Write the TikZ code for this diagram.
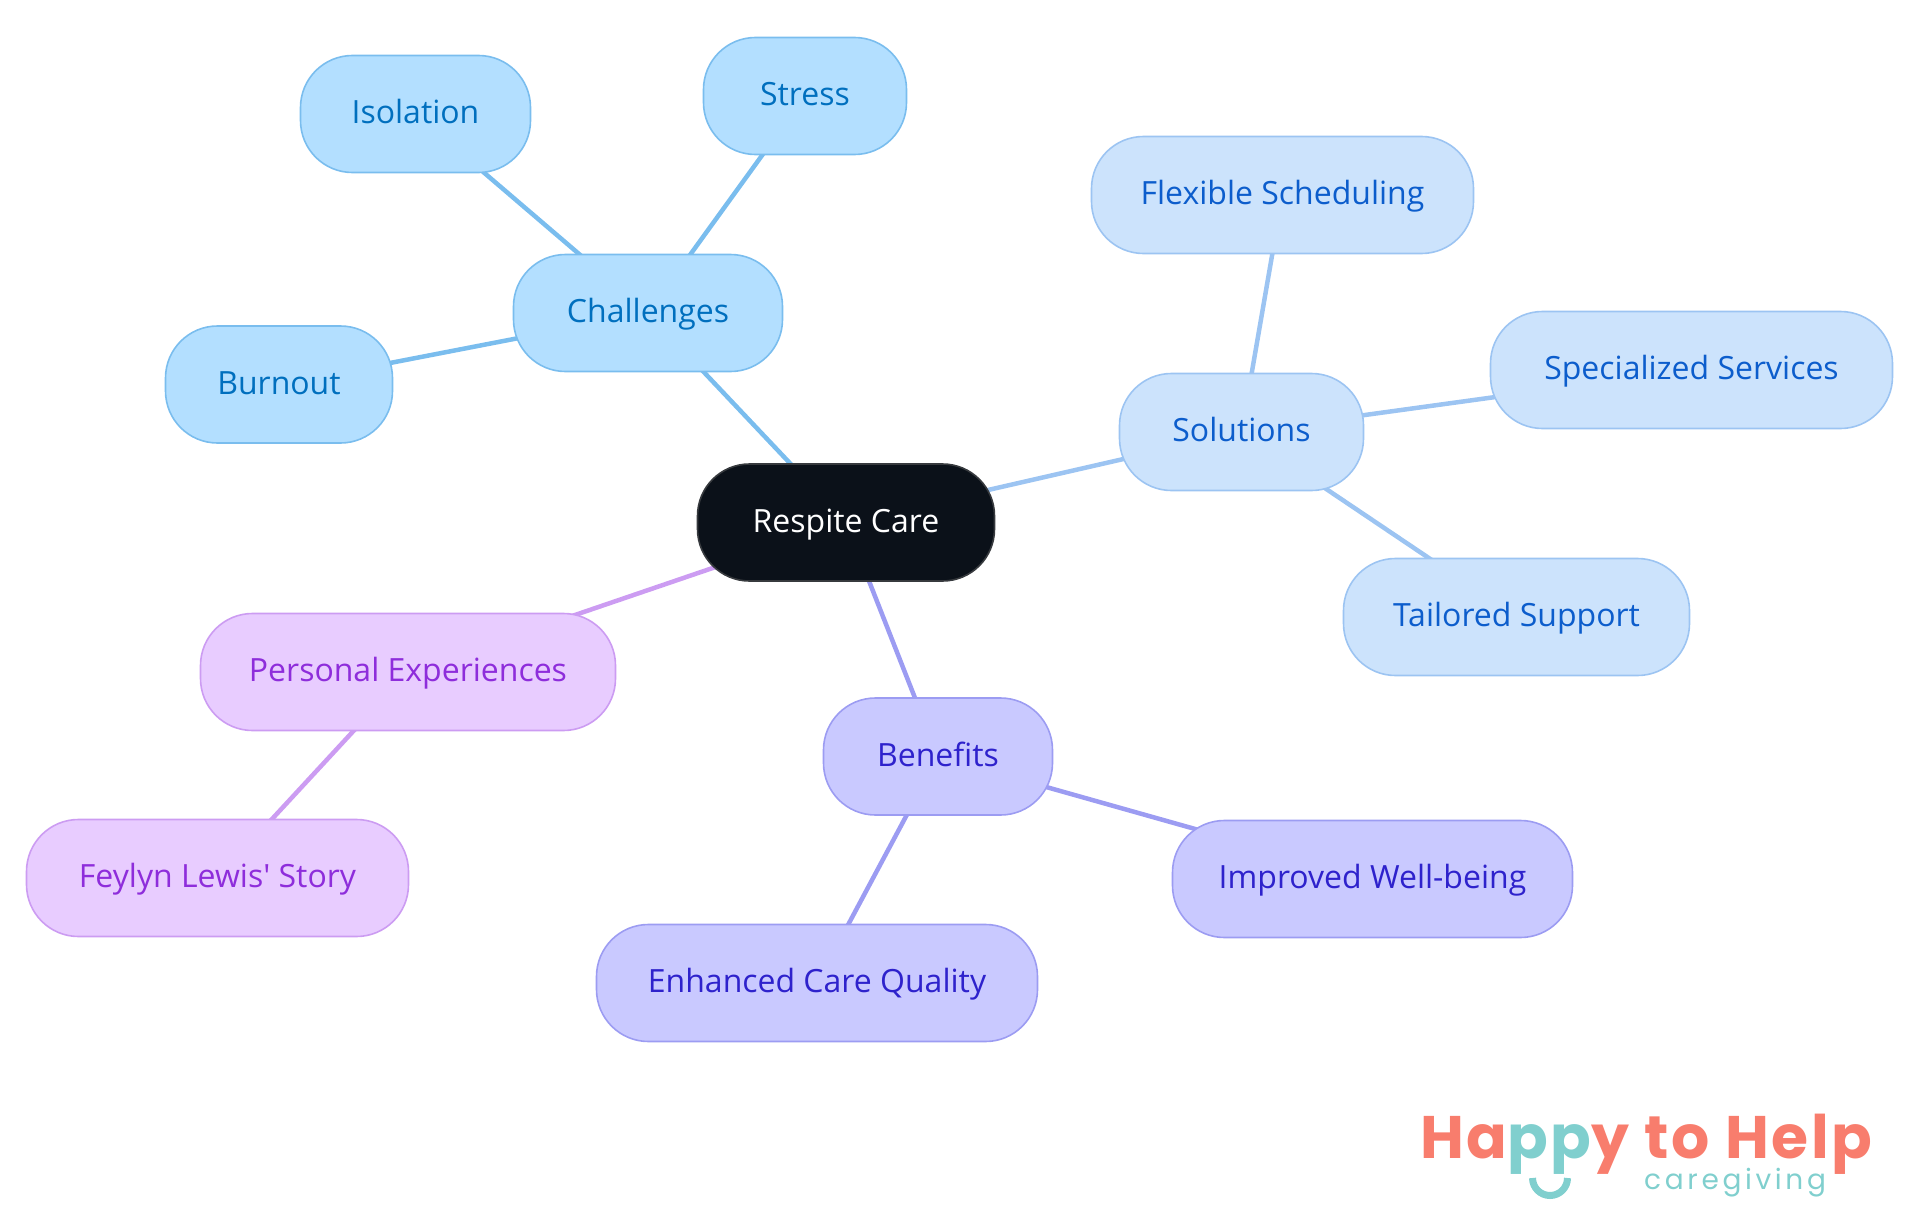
\documentclass[tikz,border=0pt]{standalone}
\usepackage{fontspec}
\newfontfamily\nodefont{Open Sans}
\newfontfamily\logofont{Poppins}
\usetikzlibrary{backgrounds}
\definecolor{ca}{HTML}{B3DFFF}\definecolor{cb}{HTML}{7ABDEE}\definecolor{cc}{HTML}{006FBE}
\definecolor{sa}{HTML}{CCE3FC}\definecolor{sb}{HTML}{9CC4F2}\definecolor{sc}{HTML}{0C5DCC}
\definecolor{ba}{HTML}{C9C9FF}\definecolor{bb}{HTML}{9C9CF2}\definecolor{bc}{HTML}{2E22CC}
\definecolor{pa}{HTML}{E8CCFF}\definecolor{pb}{HTML}{CC9CF2}\definecolor{pc}{HTML}{8E2DDB}
\definecolor{ra}{HTML}{0B1119}\definecolor{rb}{HTML}{373A3E}
\definecolor{logored}{HTML}{F87D6D}\definecolor{logoteal}{HTML}{80CFCE}
\tikzset{
 x=1pt,y=-1pt,
 pill/.style={rectangle,rounded corners=52pt,line width=1.6pt,inner sep=0pt,minimum height=117pt,
   font=\nodefont\fontsize{32}{36}\selectfont,text height=23pt,text depth=3.6pt,align=center},
 chal/.style={pill,fill=ca,draw=cb,text=cc},
 solu/.style={pill,fill=sa,draw=sb,text=sc},
 bene/.style={pill,fill=ba,draw=bb,text=bc},
 pers/.style={pill,fill=pa,draw=pb,text=pc},
 rootpill/.style={pill,fill=ra,draw=rb,text=white},
 link/.style={line width=4.5pt},
}
\begin{document}
\begin{tikzpicture}
\useasboundingbox (0,0) rectangle (1920,1215);
\node[rootpill,minimum width=297pt] (r) at (846,522.5) {Respite Care};
\node[chal,minimum width=269pt] (c) at (648,313) {Challenges};
\node[chal,minimum width=230pt] (c1) at (415.5,114) {Isolation};
\node[chal,minimum width=203pt] (c2) at (805,96) {Stress};
\node[chal,minimum width=227pt] (c3) at (279,384.5) {Burnout};
\node[solu,minimum width=244pt] (s) at (1241.5,432) {Solutions};
\node[solu,minimum width=382pt] (s1) at (1282.5,195) {Flexible Scheduling};
\node[solu,minimum width=402pt] (s2) at (1691.5,370) {Specialized Services};
\node[solu,minimum width=346pt] (s3) at (1516.5,617) {Tailored Support};
\node[bene,minimum width=229pt] (b) at (938,756.5) {Benefits};
\node[bene,minimum width=400pt] (b1) at (1372.5,879) {Improved Well-being};
\node[bene,minimum width=441pt] (b2) at (817,983) {Enhanced Care Quality};
\node[pers,minimum width=415pt] (p) at (408,672) {Personal Experiences};
\node[pers,minimum width=382pt] (p1) at (217.5,878) {Feylyn Lewis' Story};
\begin{scope}[on background layer]
\draw[link,cb] (r.center)--(c.center);
\draw[link,cb] (c.center)--(c1.center);
\draw[link,cb] (c.center)--(c2.center);
\draw[link,cb] (c.center)--(c3.center);
\draw[link,sb] (r.center)--(s.center);
\draw[link,sb] (s.center)--(s1.center);
\draw[link,sb] (s.center)--(s2.center);
\draw[link,sb] (s.center)--(s3.center);
\draw[link,bb] (r.center)--(b.center);
\draw[link,bb] (b.center)--(b1.center);
\draw[link,bb] (b.center)--(b2.center);
\draw[link,pb] (r.center)--(p.center);
\draw[link,pb] (p.center)--(p1.center);
\end{scope}
\node[anchor=base west,inner sep=0pt,font=\logofont\bfseries\fontsize{60}{64}\selectfont\addfontfeature{LetterSpace=4.3}] (logo) at (1420,1158)
  {\textcolor{logored}{Ha}\textcolor{logoteal}{pp}\textcolor{logored}{y to Help}};
\node[anchor=base west,inner sep=0pt,text=logoteal,font=\logofont\fontsize{28}{28}\selectfont\addfontfeature{LetterSpace=13}] (sub) at (1644,1189) {caregiving};
\coordinate (sl) at (1532.5,1178);
\draw[logoteal,line width=7pt] (sl) arc[start angle=180,end angle=360,radius=17.5pt];
\end{tikzpicture}
\end{document}
